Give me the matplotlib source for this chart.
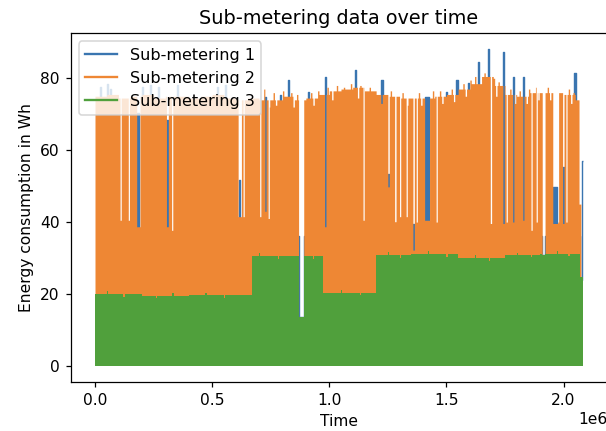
import numpy as np
from matplotlib import pyplot as plt
from matplotlib.lines import Line2D

plt.rcParams['path.simplify'] = False

# time axis in millions of samples (axis shows the 1e6 offset)
t_end = 2.08

colors = ['#3a75b0', '#ee8734', '#50a03c']
labels = ['Sub-metering 1', 'Sub-metering 2', 'Sub-metering 3']

# Sub-metering 1: mostly hidden behind sub-metering 2, only its peaks show
sub1_edges = [0.0, 2.07]
sub1_base = [36.0, 24.0]
sub1_start = 0.01
sub1_end = 2.081
sub1_peak_x = [0.021, 0.050, 0.064, 0.180, 0.200, 0.234, 0.270, 0.305, 0.348, 0.519,
               0.554, 0.614, 0.725, 0.789, 0.824, 0.909, 0.980, 1.108, 1.222, 1.250,
               1.357, 1.409, 1.499, 1.542, 1.591, 1.634, 1.677, 1.741, 1.783, 1.826,
               1.956, 1.996, 2.046, 2.077]
sub1_peak_w = [0.005, 0.005, 0.005, 0.009, 0.005, 0.005, 0.005, 0.006, 0.005, 0.005,
               0.005, 0.005, 0.005, 0.005, 0.006, 0.006, 0.006, 0.006, 0.006, 0.005,
               0.005, 0.017, 0.005, 0.006, 0.005, 0.006, 0.006, 0.006, 0.006, 0.006,
               0.017, 0.006, 0.006, 0.004]
sub1_peak_y = [77.5, 78.5, 77.0, 70.3, 77.5, 78.0, 77.5, 68.4, 78.0, 77.5,
               78.0, 51.7, 74.9, 75.4, 79.5, 76.3, 80.4, 82.3, 79.5, 53.5,
               39.6, 74.9, 76.3, 79.5, 78.6, 84.6, 88.1, 87.4, 80.4, 80.4,
               49.8, 55.4, 81.4, 57.0]

# Sub-metering 2: upper level in blocks of 0.05e6 samples
sub2_block = 0.05
sub2_end = 2.074
sub2_top = [75.0, 75.5, 74.5, 75.0, 75.5, 74.5, 75.0, 75.0, 74.5, 75.0,
            75.5, 74.5, 74.0, 74.5, 74.0, 74.0, 75.0, 74.0, 74.5, 75.5,
            76.5, 77.0, 77.5, 76.5, 75.5, 75.0, 74.5, 74.5, 74.5, 75.0,
            75.5, 77.0, 78.5, 80.5, 78.0, 75.5, 75.0, 76.0, 76.0, 76.0,
            75.5, 74.0]
# short local maxima / minima along the top edge
sub2_edge_x = [0.72, 0.74, 0.76, 0.77, 0.80, 0.835, 0.845, 0.86, 0.92, 0.93,
               0.95, 0.99, 1.01, 1.03, 1.06, 1.09, 1.12, 1.13, 1.17, 1.22,
               1.26, 1.31, 1.33, 1.38, 1.39, 1.44, 1.47, 1.48, 1.52, 1.53,
               1.57, 1.58, 1.60, 1.62, 1.66, 1.70, 1.71, 1.72, 1.77, 1.79,
               1.81, 1.84, 1.85, 1.88, 1.89, 1.93, 1.94, 1.97, 2.02, 2.03, 2.04]
sub2_edge_y = [77.0, 72.0, 76.0, 72.5, 76.5, 76.0, 72.0, 75.5, 76.0, 72.5,
               76.5, 77.5, 74.0, 78.0, 77.5, 78.5, 74.5, 78.0, 77.5, 73.0,
               76.5, 76.0, 72.5, 76.0, 72.5, 76.5, 76.5, 73.0, 77.0, 73.5,
               78.5, 75.0, 79.5, 80.5, 81.5, 80.0, 75.0, 79.0, 77.0, 73.0,
               76.5, 73.0, 77.0, 77.5, 74.0, 77.5, 74.0, 77.0, 77.0, 73.0, 76.0]
# narrow drops down toward the 40 Wh band
sub2_dip_x = [0.107, 0.142, 0.178, 0.305, 0.327, 0.611, 0.632, 0.703, 0.725, 0.739,
              0.980, 1.144, 1.250, 1.279, 1.300, 1.328, 1.357, 1.371, 1.407, 1.456,
              1.687, 1.741, 1.755, 1.783, 1.826, 1.861, 1.883, 1.954, 1.974, 1.996,
              2.010, 2.066]
sub2_dip_w = [0.005, 0.005, 0.014, 0.008, 0.005, 0.014, 0.005, 0.005, 0.005, 0.005,
              0.006, 0.005, 0.006, 0.006, 0.005, 0.005, 0.006, 0.005, 0.021, 0.005,
              0.006, 0.006, 0.005, 0.005, 0.005, 0.005, 0.005, 0.021, 0.005, 0.006,
              0.005, 0.008]
sub2_dip_y = [40.5, 40.5, 38.7, 38.7, 37.7, 41.5, 41.5, 41.5, 43.0, 41.0,
              38.7, 40.5, 49.8, 40.1, 41.5, 41.5, 32.2, 40.0, 40.5, 40.0,
              39.6, 39.6, 40.0, 40.0, 40.5, 37.7, 40.0, 39.6, 40.0, 39.6,
              40.0, 45.0]

# Sub-metering 3: plateau levels between change points
sub3_edges = [0.0, 0.2, 0.4, 0.668, 0.975, 1.2, 1.35, 1.55, 1.75, 1.9, 2.071]
sub3_top = [20.0, 19.5, 19.6, 30.6, 20.4, 30.8, 31.2, 30.0, 30.8, 31.2, 24.7]
sub3_end = 2.083
sub3_edge_x = [0.05, 0.12, 0.26, 0.33, 0.47, 0.55, 0.70, 0.78, 0.93, 1.05,
               1.13, 1.25, 1.30, 1.42, 1.50, 1.62, 1.68, 1.80, 1.86, 1.97, 2.02]
sub3_edge_y = [20.8, 19.2, 18.8, 20.3, 20.4, 19.0, 31.5, 29.8, 29.6, 21.2,
               19.8, 31.6, 30.0, 31.9, 30.4, 30.8, 29.3, 31.5, 30.2, 31.9, 30.5]

# stretches with missing readings: nothing above the cap
gap_start = [0.869, 1.909]
gap_end = [0.891, 1.921]
gap_cap = [13.5, 30.7]

t = np.linspace(0, t_end + 0.01, 60001)


def steps(edges, levels):
    idx = np.searchsorted(edges, t, side='right') - 1
    idx = np.clip(idx, 0, len(levels) - 1)
    return np.asarray(levels, dtype=float)[idx]


def apply(y, xs, ws, vals, fn):
    if np.isscalar(ws):
        ws = [ws] * len(xs)
    for x0, w, v in zip(xs, ws, vals):
        m = (t >= x0) & (t < x0 + w)
        y[m] = fn(y[m], v)
    return y


def setv(a, v):
    return np.full_like(a, v)


def finish(y, end, start=0.0):
    for a, b, cap in zip(gap_start, gap_end, gap_cap):
        m = (t >= a) & (t < b)
        y[m] = np.minimum(y[m], cap)
    inside = (t >= start) & (t <= end)
    x, y = t[inside], y[inside]
    # keep only the points around level changes (step outline)
    d = np.diff(y) != 0
    keep = np.r_[True, d] | np.r_[d, True]
    return x[keep], y[keep]


s1 = steps(sub1_edges, sub1_base)
s1 = apply(s1, sub1_peak_x, sub1_peak_w, sub1_peak_y, np.maximum)
s1 = finish(s1, sub1_end, sub1_start)

s2_edges = [i * sub2_block for i in range(len(sub2_top))]
s2 = steps(s2_edges, sub2_top)
s2 = apply(s2, sub2_edge_x, 0.006, sub2_edge_y, setv)
s2 = finish(apply(s2, sub2_dip_x, sub2_dip_w, sub2_dip_y, np.minimum), sub2_end)

s3 = steps(sub3_edges, sub3_top)
s3 = finish(apply(s3, sub3_edge_x, 0.006, sub3_edge_y, setv), sub3_end)

fig = plt.figure(figsize=(606 / 112, 431 / 112), dpi=112)
ax = fig.add_axes([0.1165, 0.1144, 0.8858, 0.8083])

# sub-metering 3 covers everything below ~13 Wh, so the upper two series
# only need to be filled down to there
bases = [10, 10, 0]
for i, ((x, y), color) in enumerate(zip([s1, s2, s3], colors)):
    ax.fill_between(x * 1e6, bases[i], y, step='post', color=color, lw=0,
                    antialiased=False, zorder=2 + i)
# the narrow peaks of sub-metering 1 need a line to stay visible
ax.plot(s1[0] * 1e6, s1[1], color=colors[0], lw=0.9, zorder=2.5,
        drawstyle='steps-post', solid_capstyle='butt')

ax.set_title('Sub-metering data over time', fontsize=12.4)
ax.set_xlabel('Time')
ax.set_ylabel('Energy consumption in Wh')
handles = [Line2D([], [], color=c, lw=1.5) for c in colors]
ax.legend(handles, labels, loc='upper left', fontsize=10.3)

fig.savefig('out.png', dpi=112)
